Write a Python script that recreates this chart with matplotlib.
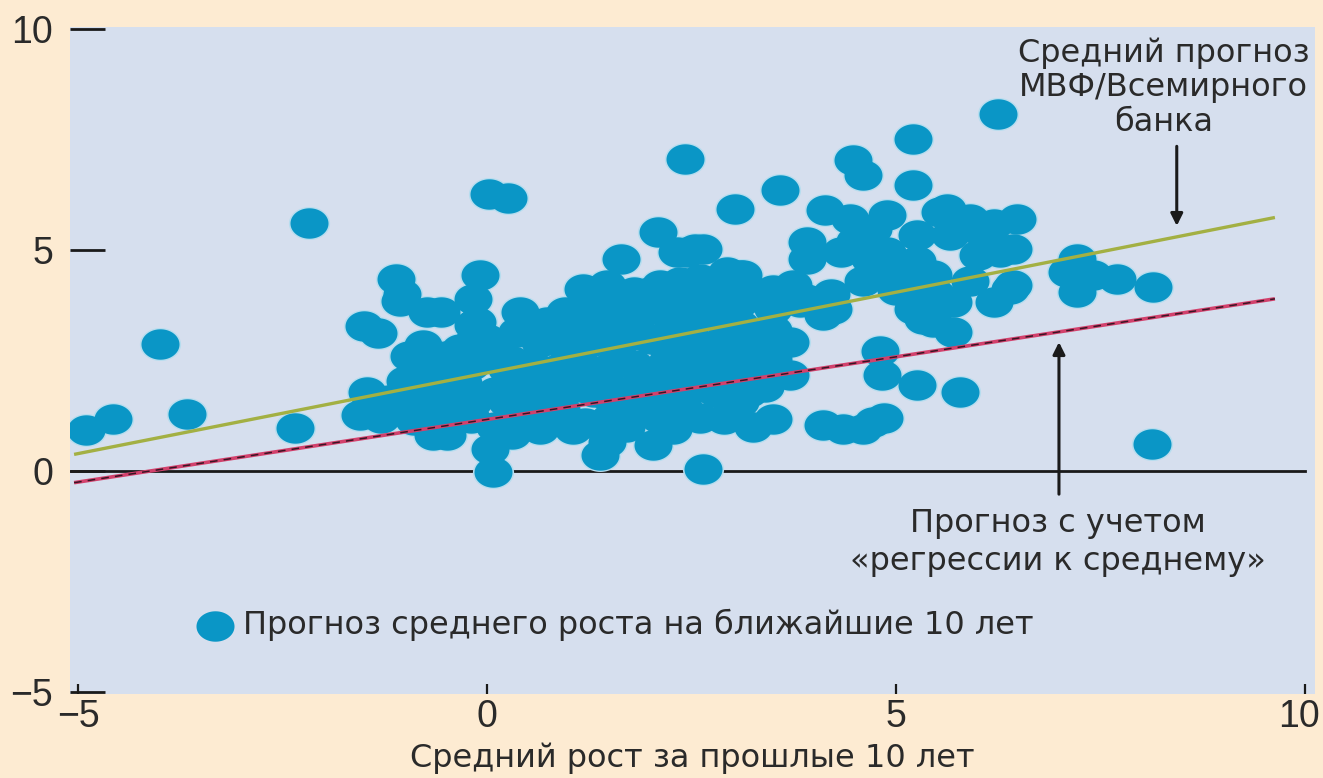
import numpy as np
import matplotlib
matplotlib.use("Agg")
import matplotlib.pyplot as plt
import matplotlib.transforms as mtransforms
from matplotlib.path import Path

# ---- data ----
past_growth = [
    -4.91, -4.57, -4.00, -3.67, -2.35, -2.18,
    -1.50, -1.33, -1.12, -1.04, -1.06, -0.73, -0.78, -1.47, -1.55, -1.06, -0.66, -0.66,
    -0.54, -1.20, -0.85, -0.90, -0.35, -0.30, -0.75, -1.00, -0.57, -0.17, -0.33, -0.49,
    -0.49, -0.17, -0.09, -0.17, -0.12, -0.17, 0.02, 0.25, 0.10, 0.30,
    0.37, 0.73, 1.17, 1.17, 1.63, 2.44, 1.99, 2.36, 2.76, 3.09, 3.09, 3.74, 4.11, 3.70,
    3.70, 3.50, 4.72, 4.68, 3.91, 0.04, 0.07, 1.38, 1.47, 2.03, 2.64, 0.65, 1.05,
    2.27, 2.89, 3.09, 1.87, 1.47, 0.65, 0.24, 0.24, 0.86, 1.47, 2.20, 2.69, 3.30, 3.09,
    3.50, 0.65, 1.26, 1.87, 2.27, 2.69, 3.09, 3.50, 1.66, 0.89, 1.47, 1.79, 2.11, 2.60,
    2.93, 2.09, 2.54, 2.32, 3.03, 2.42,
    0.45, 0.90, 1.20, 1.70, 2.00, 2.40, 2.60, 3.40, 2.90, 1.10, 0.50, 1.90, 2.30, 1.00,
    1.60, 2.50, 3.00, 1.50, 2.20, 3.50, 0.10, 0.30, 2.20, 3.30, 2.70, 3.90, 4.20, 3.25,
    4.47, 4.60, 5.20, 3.58, 4.13, 2.64, 3.91, 4.44, 4.89, 5.54, 6.48, 6.11, 6.27, 4.89,
    4.32, 5.26, 5.66, 4.72, 5.45, 3.13, 2.85, 4.23, 3.83, 5.21, 5.70, 6.39, 6.19, 7.21,
    7.41, 7.70, 7.21, 5.70, 5.45, 3.09, 2.69, 6.43, 7.09, 8.14, 6.43, 5.50, 5.33, 4.96,
    4.80, 4.83, 5.26, 5.78, 4.10, 4.35, 4.60, 4.85, 8.13, 6.25, 5.20, 5.62, 5.99,
    5.25, 5.90, 6.00, 5.20,
    -1.30, -0.80, -0.20, 0.60, 1.50, 2.10, 2.60,
    -0.50, 0.10, 0.80, 1.30, 1.65, 2.25, 2.80, 3.20,
    -0.20, 0.55, 1.15, 1.80, 2.45, 2.85, 3.35,
    0.00, 0.95, 1.60, 2.00, 2.90, 3.40,
    0.40, 0.95, 1.35, 1.90, 2.45, 3.00,
    2.50, 3.10, 3.50, -0.50, -0.95,
    4.60, 5.00, 4.50, 5.90, 6.20,
]
forecast_growth = [
    0.93, 1.18, 2.87, 1.29, 0.97, 5.61,
    3.28, 3.12, 4.34, 4.02, 3.84, 3.60, 2.85, 1.79, 1.27, 1.40, 0.81, 1.79,
    2.31, 1.60, 1.75, 1.15, 1.30, 2.00, 2.40, 2.05, 3.60, 3.30, 2.76, 0.81,
    1.40, 1.56, 4.43, 3.89, 3.37, 2.92, 6.27, 6.18, 1.00, 0.85,
    3.14, 3.37, 3.53, 4.12, 4.80, 4.95, 4.05, 4.28, 4.28, 4.43, 3.82, 4.21, 3.53, 2.92,
    2.17, 1.18, 1.11, 4.80, 4.80, 0.50, -0.02, 0.36, 0.66, 0.59, 0.05, 0.95, 0.95,
    0.95, 1.18, 1.56, 1.40, 1.72, 1.72, 1.56, 2.31, 2.31, 2.31, 2.47, 2.76, 2.92, 2.31,
    2.53, 2.92, 2.92, 3.08, 3.37, 3.53, 3.30, 3.67, 3.67, 3.30, 4.21, 4.05, 4.21, 4.34,
    4.50, 5.41, 5.02, 4.95, 5.93, 7.06,
    1.25, 1.40, 1.10, 1.00, 1.70, 1.40, 1.90, 1.90, 2.10, 1.90, 2.00, 2.00, 2.10, 2.60,
    2.60, 3.00, 2.70, 3.30, 2.80, 3.20, 2.70, 2.50, 3.70, 4.00, 3.90, 3.90, 4.00, 1.00,
    7.04, 6.70, 6.47, 6.36, 5.90, 5.02, 5.18, 5.70, 5.79, 5.86, 5.70, 5.34, 4.95, 4.95,
    4.95, 5.34, 5.34, 5.48, 4.43, 4.43, 4.12, 3.67, 3.82, 3.67, 3.82, 4.12, 3.82, 4.80,
    4.43, 4.34, 4.05, 3.14, 3.37, 2.92, 3.82, 5.02, 4.50, 4.16, 4.21, 3.98, 3.44, 4.43,
    2.72, 2.17, 1.95, 1.79, 1.05, 0.95, 0.95, 1.20, 0.61, 8.08, 7.51, 5.93, 5.48,
    4.75, 4.30, 4.90, 4.10,
    1.20, 1.20, 1.20, 1.20, 1.20, 1.20, 1.20,
    1.80, 1.80, 1.80, 1.80, 1.80, 1.80, 1.80, 1.80,
    2.40, 2.40, 2.40, 2.40, 2.40, 2.40, 2.40,
    3.00, 3.00, 3.00, 3.00, 3.00, 3.00,
    3.60, 3.60, 3.60, 3.60, 3.60, 3.60,
    4.10, 4.10, 4.10, 2.60, 2.60,
    4.30, 4.10, 5.20, 5.70, 5.60,
]

imf_line_x = [-5.05, 9.63]
imf_line_y = [0.38, 5.74]
regression_line_x = [-5.05, 9.63]
regression_line_y = [-0.26, 3.90]

x_ticks = [-5, 0, 5, 10]
y_ticks = [-5, 0, 5, 10]

legend_label = "Прогноз среднего роста на ближайшие 10 лет"
x_label = "Средний рост за прошлые 10 лет"
imf_label = "Средний прогноз\nМВФ/Всемирного\nбанка"
regression_label = "Прогноз с учетом\n«регрессии к среднему»"

# ---- style ----
fig_bg = "#FDEBD2"
ax_bg = "#D6DFEE"
dot_color = "#0A96C6"
halo_color = "#B6DDEE"
text_color = "#2A2A2A"
text_font = "DejaVu Sans"
tick_font = "Liberation Sans"
fs_text = 23

fig = plt.figure(figsize=(13.23, 7.78), dpi=100)
fig.patch.set_facecolor(fig_bg)
W, H = 1323, 778
ax = fig.add_axes([70 / W, (H - 693.5) / H, 1245 / W, 666.5 / H])
ax.set_facecolor(ax_bg)
ax.set_xlim(-5.1, 10.12)
ax.set_ylim(-5.03, 10.05)
for sp in ax.spines.values():
    sp.set_visible(False)

# elliptical marker (wider than tall)
t = np.linspace(0, 2 * np.pi, 73)
ellipse = Path(np.column_stack([1.25 * np.cos(t), np.sin(t)]), closed=True)

ax.axhline(0, xmax=0.992, color="#1a1a1a", lw=2.0, zorder=1)

ax.scatter(past_growth, forecast_growth, s=880, marker=ellipse,
           color=halo_color, linewidths=0, zorder=2)
sc = ax.scatter(past_growth, forecast_growth, s=750, marker=ellipse,
                color=dot_color, linewidths=0, zorder=3)

ax.plot(imf_line_x, imf_line_y, color="#A3B043", lw=2.4, zorder=4,
        solid_capstyle="butt")
ax.plot(regression_line_x, regression_line_y, color="#D2416C", lw=2.6, zorder=4,
        solid_capstyle="butt")
ax.plot(regression_line_x, regression_line_y, color="#3A1424", lw=1.1, zorder=5,
        dashes=(5, 4))

arrow_kw = dict(arrowstyle="-|>", color="#1a1a1a", lw=2.2, mutation_scale=18,
                shrinkA=0, shrinkB=0)
ax.annotate("", xy=(8.43, 5.55), xytext=(8.43, 7.35), arrowprops=arrow_kw, zorder=6)
ax.annotate("", xy=(6.99, 2.92), xytext=(6.99, -0.52), arrowprops=arrow_kw, zorder=6)

ax.text(8.27, 8.68, imf_label, ha="center", va="center", fontsize=fs_text,
        family=text_font, color=text_color, linespacing=1.15, zorder=7)
ax.text(6.98, -1.62, regression_label, ha="center", va="center", fontsize=fs_text,
        family=text_font, color=text_color, linespacing=1.3, zorder=7)

leg = ax.legend(handles=[sc], labels=[legend_label], loc="center left",
                bbox_to_anchor=(0.102, 0.103), frameon=False,
                prop={"family": text_font, "size": fs_text}, labelcolor=text_color,
                handletextpad=0.3, borderpad=0, borderaxespad=0,
                handlelength=1.15, scatterpoints=1)

ax.set_xticks(x_ticks)
ax.set_yticks(y_ticks)
ax.set_xticklabels([f"{v}".replace("-", "\u2212") for v in x_ticks])
ax.set_yticklabels([f"{v}".replace("-", "\u2212") for v in y_ticks])
ax.tick_params(axis="y", direction="in", length=25, width=2.0, color="#1a1a1a",
               pad=12, labelsize=27, labelcolor=text_color)
ax.tick_params(axis="x", direction="in", length=7.5, width=1.6, color="#1a1a1a",
               pad=4, labelsize=27, labelcolor=text_color)
for lab in ax.get_xticklabels() + ax.get_yticklabels():
    lab.set_fontfamily(tick_font)
# keep the last x label inside the figure
last = ax.get_xticklabels()[-1]
last.set_transform(last.get_transform() +
                   mtransforms.ScaledTranslation(-6 / 100, 0, fig.dpi_scale_trans))

ax.set_xlabel(x_label, fontsize=fs_text, family=text_font, color=text_color, labelpad=5)

fig.savefig("out.png", dpi=100, facecolor=fig_bg)
